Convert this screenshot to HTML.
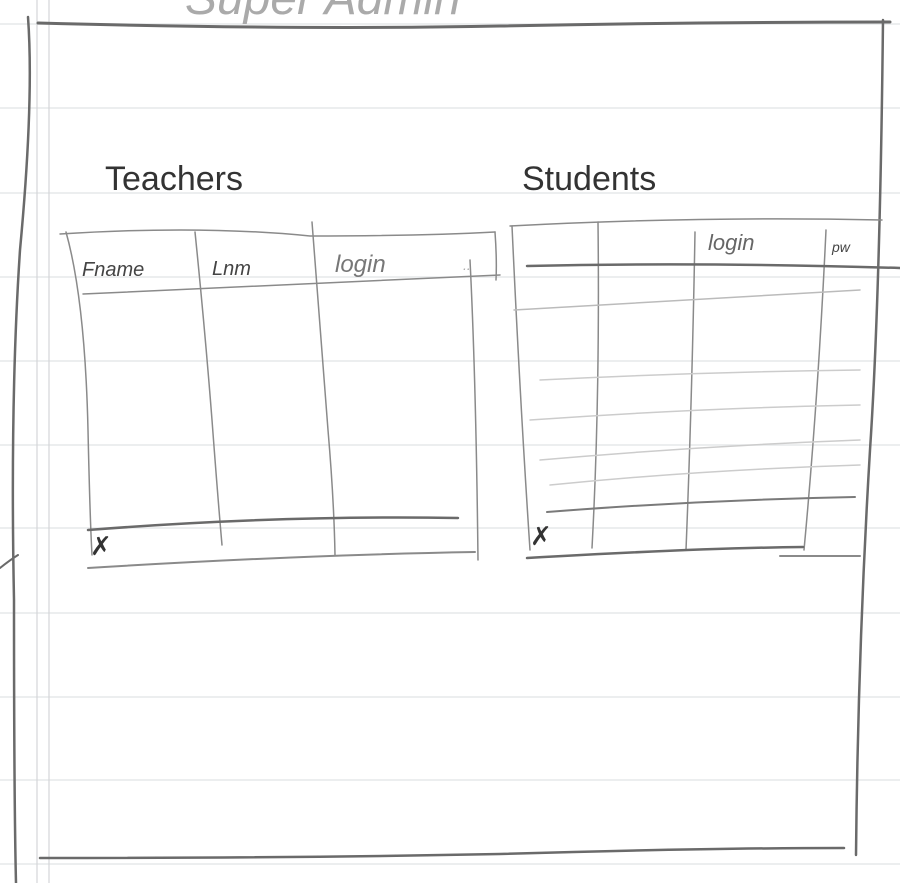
<!DOCTYPE html>
<html><head><style>
html,body{margin:0;padding:0;background:#fff;}
svg{display:block}
text{font-family:"Liberation Sans",sans-serif;fill:#444;font-style:italic}
</style></head><body>
<svg width="900" height="883" viewBox="0 0 900 883" xmlns="http://www.w3.org/2000/svg">
<g stroke="#e6e8ea" stroke-width="1.5">
<line x1="0" y1="24" x2="900" y2="24"/><line x1="0" y1="108" x2="900" y2="108"/>
<line x1="0" y1="193" x2="900" y2="193"/><line x1="0" y1="277" x2="900" y2="277"/>
<line x1="0" y1="361" x2="900" y2="361"/><line x1="0" y1="445" x2="900" y2="445"/>
<line x1="0" y1="528" x2="900" y2="528"/><line x1="0" y1="613" x2="900" y2="613"/>
<line x1="0" y1="697" x2="900" y2="697"/><line x1="0" y1="780" x2="900" y2="780"/>
<line x1="0" y1="864" x2="900" y2="864"/>
</g>
<g stroke="#d4d6d8" stroke-width="1.2"><line x1="37" y1="0" x2="37" y2="883"/><line x1="49" y1="0" x2="49" y2="883"/></g>
<text x="185" y="14" font-size="48" style="fill:#aaa;font-style:italic">Super  Admin</text>
<g fill="none" stroke="#6a6a6a" stroke-linecap="round">
<path d="M38 23 Q300 30 500 26 Q700 22 890 22" stroke-width="3"/>
<path d="M28 17 Q34 100 20 250 Q10 400 14 600 Q14 800 16 883" stroke-width="2.5"/>
<path d="M883 20 Q880 300 870 450 Q858 650 856 855" stroke-width="2.5"/>
<path d="M40 858 Q300 858 500 854 Q700 848 844 848" stroke-width="2.5"/>
<path d="M0 568 Q10 560 18 555" stroke-width="2"/>
</g>
<text x="105" y="190" font-size="34" style="fill:#333;font-style:normal">Teachers</text>
<text x="522" y="190" font-size="34" style="fill:#333;font-style:normal">Students</text>
<g fill="none" stroke="#8a8a8a" stroke-width="1.5" stroke-linecap="round">
<path d="M60 234 Q200 225 310 236 Q420 236 495 232"/>
<path d="M495 232 Q497 260 496 280"/>
<path d="M66 232 Q85 300 88 430 Q90 520 92 555"/>
<path d="M195 232 Q205 330 212 420 Q218 500 222 545"/>
<path d="M312 222 Q320 330 328 430 Q334 500 335 555"/>
<path d="M470 260 Q476 380 478 560"/>
<path d="M83 294 Q300 285 500 275"/>
<path d="M88 530 Q280 515 458 518" stroke="#6a6a6a" stroke-width="2.5"/>
<path d="M88 568 Q300 555 475 552" stroke-width="2"/>
<path d="M510 226 Q700 216 882 220"/>
<path d="M512 226 Q520 400 530 550"/>
<path d="M598 222 Q600 400 592 548"/>
<path d="M695 232 Q692 400 686 550"/>
<path d="M826 230 Q818 400 804 550"/>
<path d="M527 266 Q700 262 900 268" stroke="#6a6a6a" stroke-width="2.5"/>
<path d="M514 310 Q700 300 860 290" stroke="#bbb"/>
<path d="M540 380 Q700 372 860 370" stroke="#ccc"/>
<path d="M530 420 Q700 408 860 405" stroke="#ccc"/>
<path d="M540 460 Q700 446 860 440" stroke="#ccc"/>
<path d="M550 485 Q700 470 860 465" stroke="#ccc"/>
<path d="M547 512 Q700 500 855 497" stroke="#7a7a7a" stroke-width="2"/>
<path d="M527 558 Q700 548 803 547" stroke="#6a6a6a" stroke-width="2.5"/>
<path d="M780 556 L860 556" stroke-width="2"/>
</g>
<g font-size="20">
<text x="82" y="276">Fname</text><text x="212" y="275">Lnm</text>
<text x="335" y="272" font-size="24" style="fill:#777">login</text><text x="463" y="270" font-size="14" style="fill:#aaa">..</text>
<text x="708" y="250" font-size="22" style="fill:#666">login</text><text x="832" y="252" font-size="14">pw</text>
</g>
<text x="90" y="555" font-size="26" style="font-style:normal;fill:#333">✗</text>
<text x="530" y="545" font-size="26" style="font-style:normal;fill:#333">✗</text>
</svg>
</body></html>
